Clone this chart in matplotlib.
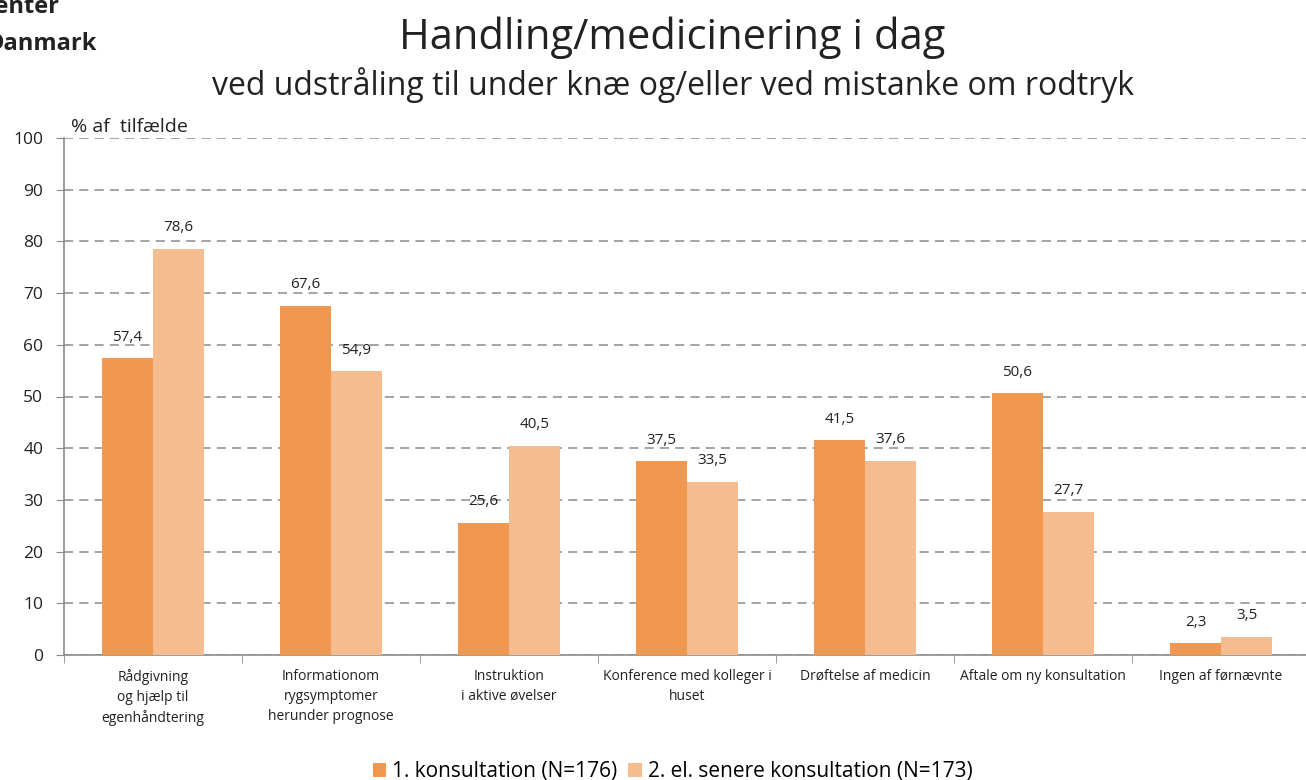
import matplotlib.pyplot as plt
import numpy as np

plt.rcParams['font.family'] = ['Open Sans', 'DejaVu Sans']

categories = [
    "Rådgivning\nog hjælp til\negenhåndtering",
    "Informationom\nrygsymptomer\nherunder prognose",
    "Instruktion\ni aktive øvelser",
    "Konference med kolleger i\nhuset",
    "Drøftelse af medicin",
    "Aftale om ny konsultation",
    "Ingen af førnævnte",
]
first_visit = [57.4, 67.6, 25.6, 37.5, 41.5, 50.6, 2.3]
later_visit = [78.6, 54.9, 40.5, 33.5, 37.6, 27.7, 3.5]
series_names = ["1. konsultation (N=176)", "2. el. senere konsultation (N=173)"]

dark_orange = '#F0984F'
light_orange = '#F5BD8F'
grey = '#8C8C8C'
ink = '#222222'

fig = plt.figure(figsize=(13.06, 7.8), dpi=100)
ax = fig.add_axes([64 / 1306, 1 - 655 / 780, 1246 / 1306, (655 - 138) / 780])

x = np.arange(len(categories))
w = 0.287
b1 = ax.bar(x - w / 2, first_visit, w, color=dark_orange, label=series_names[0], zorder=3)
b2 = ax.bar(x + w / 2, later_visit, w, color=light_orange, label=series_names[1], zorder=3)

# value labels above each bar, decimal comma
for bars, vals in ((b1, first_visit), (b2, later_visit)):
    for rect, v in zip(bars, vals):
        ax.text(rect.get_x() + rect.get_width() / 2, v + 2.6, f"{v:.1f}".replace('.', ','),
                ha='center', va='bottom', fontsize=11, color=ink)

ax.set_xlim(-0.5, len(categories) - 0.5)
ax.set_ylim(0, 100)
ax.set_yticks(range(0, 101, 10))
ax.tick_params(axis='y', labelsize=12.5, length=6, pad=9, color=grey, labelcolor=ink)
ax.yaxis.grid(True, linestyle=(0, (6, 4)), color=grey, linewidth=1.1, zorder=0)

ax.set_xticks(x)
ax.set_xticklabels(categories, fontsize=10, color=ink, linespacing=1.45)
ax.tick_params(axis='x', length=0, pad=10)
ax.set_xticks(np.arange(-0.5, len(categories), 1), minor=True)
ax.tick_params(axis='x', which='minor', length=6, color=grey)

for side in ('top', 'right'):
    ax.spines[side].set_visible(False)
for side in ('left', 'bottom'):
    ax.spines[side].set_color(grey)
    ax.spines[side].set_linewidth(1.2)

ax.text(0.006, 1.004, "% af  tilfælde", transform=ax.transAxes, fontsize=14,
        ha='left', va='bottom', color=ink)

fig.text(0.515, 1 - 38 / 780, "Handling/medicinering i dag", ha='center', va='center',
         fontsize=30, color=ink)
fig.text(0.515, 1 - 85 / 780, "ved udstråling til under knæ og/eller ved mistanke om rodtryk",
         ha='center', va='center', fontsize=23, color=ink)

# logo text at the top left corner, partly outside the canvas
fig.text(60 / 1306, 1 - 13 / 780, "Forskningscenter", ha='right', va='baseline',
         fontsize=17, fontweight='bold', color=ink)
fig.text(97 / 1306, 1 - 50 / 780, "Danmark", ha='right', va='baseline',
         fontsize=17, fontweight='bold', color=ink)

fig.legend(handles=[b1, b2], loc='center', bbox_to_anchor=(0.515, 1 - 772 / 780),
           ncol=2, frameon=False, fontsize=15, handlelength=0.65, handleheight=0.65,
           handletextpad=0.3, columnspacing=0.5)

fig.savefig('out.png', dpi=100)
